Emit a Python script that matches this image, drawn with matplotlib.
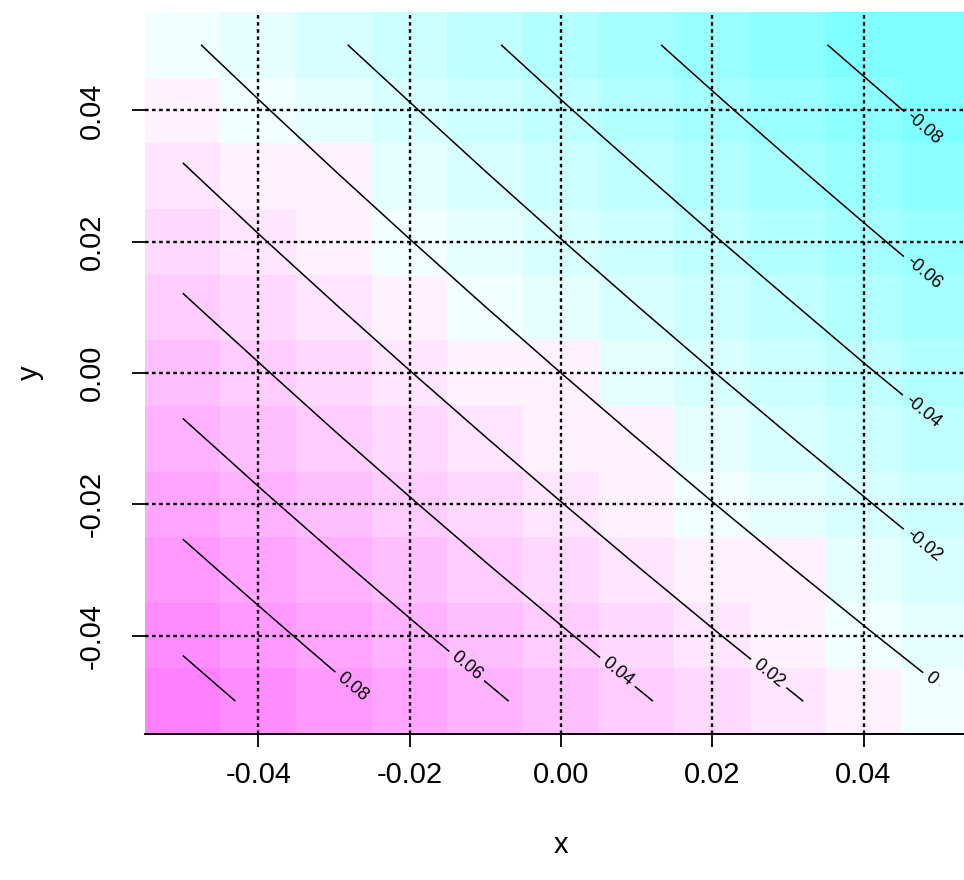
import colorsys
import numpy as np
import matplotlib
matplotlib.use("Agg")
import matplotlib.pyplot as plt
from matplotlib.colors import ListedColormap, BoundaryNorm

plt.rcParams['font.family'] = ['Liberation Sans', 'DejaVu Sans']

# grid of the image / contour (cell centres)
x_vals = [-0.05, -0.04, -0.03, -0.02, -0.01, 0.0, 0.01, 0.02, 0.03, 0.04, 0.05]
y_vals = [-0.05, -0.04, -0.03, -0.02, -0.01, 0.0, 0.01, 0.02, 0.03, 0.04, 0.05]

# values shown by the coloured cells (rows = y, from bottom to top)
z_image = [
    [0.10, 0.09, 0.08, 0.07, 0.06, 0.05, 0.04, 0.03, 0.02, 0.01, -0.001],
    [0.09, 0.08, 0.07, 0.06, 0.05, 0.04, 0.03, 0.02, 0.01, -0.001, -0.01],
    [0.08, 0.07, 0.06, 0.05, 0.04, 0.03, 0.02, 0.01, 0.001, -0.01, -0.02],
    [0.07, 0.06, 0.05, 0.04, 0.03, 0.02, 0.01, -0.001, -0.01, -0.02, -0.03],
    [0.06, 0.05, 0.04, 0.03, 0.02, 0.01, 0.001, -0.01, -0.02, -0.03, -0.04],
    [0.05, 0.04, 0.03, 0.02, 0.01, 0.001, -0.01, -0.02, -0.03, -0.04, -0.05],
    [0.04, 0.03, 0.02, 0.01, -0.001, -0.01, -0.02, -0.03, -0.04, -0.05, -0.06],
    [0.03, 0.02, 0.01, -0.001, -0.01, -0.02, -0.03, -0.04, -0.05, -0.06, -0.07],
    [0.02, 0.01, 0.001, -0.01, -0.02, -0.03, -0.04, -0.05, -0.06, -0.07, -0.08],
    [0.01, -0.001, -0.01, -0.02, -0.03, -0.04, -0.05, -0.06, -0.07, -0.08, -0.09],
    [-0.001, -0.01, -0.02, -0.03, -0.04, -0.05, -0.06, -0.07, -0.08, -0.09, -0.10],
]

# values behind the contour lines (rows = y, from bottom to top)
z_contour = [
    [0.1080, 0.0965, 0.0852, 0.0741, 0.0633, 0.0526, 0.0422, 0.0320, 0.0220, 0.0121, 0.0025],
    [0.0965, 0.0851, 0.0739, 0.0629, 0.0522, 0.0417, 0.0314, 0.0212, 0.0113, 0.0016, -0.0079],
    [0.0852, 0.0739, 0.0628, 0.0520, 0.0413, 0.0309, 0.0207, 0.0107, 0.0009, -0.0087, -0.0182],
    [0.0741, 0.0629, 0.0520, 0.0412, 0.0307, 0.0204, 0.0103, 0.0004, -0.0093, -0.0188, -0.0282],
    [0.0633, 0.0522, 0.0413, 0.0307, 0.0203, 0.0101, 0.0001, -0.0097, -0.0193, -0.0287, -0.0380],
    [0.0526, 0.0417, 0.0309, 0.0204, 0.0101, 0.0000, -0.0099, -0.0196, -0.0291, -0.0385, -0.0476],
    [0.0422, 0.0314, 0.0207, 0.0103, 0.0001, -0.0099, -0.0197, -0.0293, -0.0387, -0.0480, -0.0570],
    [0.0320, 0.0212, 0.0107, 0.0004, -0.0097, -0.0196, -0.0293, -0.0388, -0.0482, -0.0573, -0.0663],
    [0.0220, 0.0113, 0.0009, -0.0093, -0.0193, -0.0291, -0.0387, -0.0482, -0.0574, -0.0665, -0.0754],
    [0.0121, 0.0016, -0.0087, -0.0188, -0.0287, -0.0385, -0.0480, -0.0573, -0.0665, -0.0754, -0.0842],
    [0.0025, -0.0079, -0.0182, -0.0282, -0.0380, -0.0476, -0.0570, -0.0663, -0.0754, -0.0842, -0.0930],
]

contour_levels = [-0.08, -0.06, -0.04, -0.02, 0.0, 0.02, 0.04, 0.06, 0.08, 0.10]
labelled_levels = [-0.08, -0.06, -0.04, -0.02, 0.0, 0.02, 0.04, 0.06, 0.08]
label_spots = [(0.0476, 0.0368), (0.0476, 0.0148), (0.0474, -0.0064), (0.0474, -0.0270),
               (0.0486, -0.0471), (0.0271, -0.0463), (0.0070, -0.0462), (-0.0128, -0.0451),
               (-0.0280, -0.0484)]
tick_vals = [-0.04, -0.02, 0.0, 0.02, 0.04]
tick_labels = ["-0.04", "-0.02", "0.00", "0.02", "0.04"]

# cm.colors(20): cyan -> white -> magenta
n_col = 20
cols = [colorsys.hsv_to_rgb(0.5, s, 1) for s in np.linspace(0.5, 0.05, n_col // 2)]
cols += [colorsys.hsv_to_rgb(10 / 12, s, 1) for s in np.linspace(0, 0.5, n_col // 2 + 1)[1:]]
cmap = ListedColormap(cols)
norm = BoundaryNorm(np.linspace(-0.1, 0.1, n_col + 1) + 0.0005, n_col, clip=True)

fig = plt.figure(figsize=(9.64, 8.8), dpi=100)
ax = fig.add_axes([145 / 964, (880 - 734) / 880, (977 - 145) / 964, (734 - 12) / 880])

ax.imshow(z_image, origin='lower', extent=[-0.055, 0.055, -0.055, 0.055],
          cmap=cmap, norm=norm, interpolation='nearest', aspect='auto', zorder=0)

for v in tick_vals:
    ax.axvline(v, color='black', linestyle=(0, (1.5, 1.5)), linewidth=1.7, zorder=1)
    ax.axhline(v, color='black', linestyle=(0, (1.5, 1.5)), linewidth=1.7, zorder=1)

cs = ax.contour(x_vals, y_vals, z_contour, levels=contour_levels, colors='black',
                linewidths=1.1, linestyles='solid', zorder=2)
ax.clabel(cs, levels=labelled_levels, manual=label_spots, inline=True, inline_spacing=5,
          fontsize=13, fmt=lambda v: f"{v:g}")

ax.set_xlim(-0.055, 0.055)
ax.set_ylim(-0.055, 0.055)
ax.set_xticks(tick_vals)
ax.set_xticklabels(tick_labels)
ax.set_yticks(tick_vals)
ax.set_yticklabels(tick_labels, rotation=90, va='center')
ax.tick_params(direction='out', length=9.5, width=1.3, labelsize=21, color='black')
ax.tick_params(axis='x', pad=10)
ax.tick_params(axis='y', pad=19)
for side in ['top', 'right', 'left']:
    ax.spines[side].set_visible(False)
ax.spines['bottom'].set_linewidth(1.4)

fig.text(561 / 964, 1 - 845 / 880, 'x', ha='center', va='center', fontsize=21)
fig.text(30 / 964, 1 - 373 / 880, 'y', ha='center', va='center', fontsize=21, rotation=90)

fig.savefig('out.png', dpi=100)
